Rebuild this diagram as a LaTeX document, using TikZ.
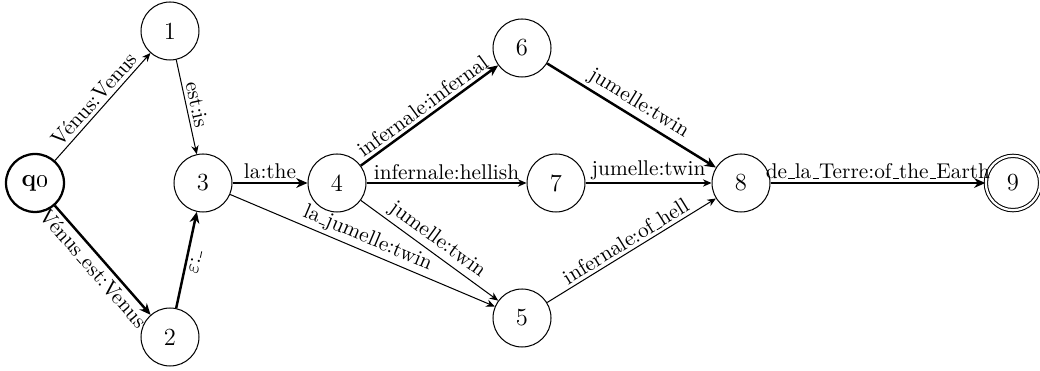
\documentclass[tikz,border=0pt]{standalone}
\usetikzlibrary{arrows.meta}
\newcommand\us{\leavevmode\kern.06em\vbox{\hrule width.3em}}
\begin{document}
\begin{tikzpicture}[x=0.488pt,y=-0.488pt,
  font=\fontsize{10.4}{12.5}\selectfont,
  st/.style={circle,draw,line width=0.5pt,minimum size=28.3pt,inner sep=0pt,font=\large},
  init/.style={st,line width=1.1pt},
  acc/.style={st,double,double distance=1.1pt,minimum size=26.5pt},
  tr/.style={line width=0.5pt,-{Stealth[length=4.2pt,width=3.6pt]}},
  btr/.style={line width=1.2pt,-{Stealth[length=5.5pt,width=4.8pt]}},
  lab/.style={sloped,inner sep=1.5pt}]
\useasboundingbox (0,0) rectangle (1040,371);
\node[init] (q0) at (35,183) {\textbf{q\oldstylenums{0}}};
\node[st] (s1) at (170,31) {1};
\node[st] (s2) at (170,337) {2};
\node[st] (s3) at (203,183) {3};
\node[st] (s4) at (337,183) {4};
\node[st] (s6) at (522,48) {6};
\node[st] (s7) at (556,183) {7};
\node[st] (s5) at (522,318) {5};
\node[st] (s8) at (741,183) {8};
\node[acc] (s9) at (1013,183) {9};
\draw[tr] (q0) -- node[lab,above] {Vénus:Venus} (s1);
\draw[btr] (q0) -- node[lab,below] {Vénus\us est:Venus} (s2);
\draw[tr] (s1) -- node[lab,above] {est:is} (s3);
\draw[btr] (s2) -- node[lab,below] {$\varepsilon$:\us} (s3);
\draw[btr] (s3) -- node[lab,above] {la:the} (s4);
\draw[tr] (s3) -- node[lab,above] {la\us jumelle:twin} (s5);
\draw[btr] (s4) -- node[lab,above] {infernale:infernal} (s6);
\draw[tr] (s4) -- node[lab,above] {infernale:hellish} (s7);
\draw[tr] (s4) -- node[lab,above] {jumelle:twin} (s5);
\draw[btr] (s6) -- node[lab,above] {jumelle:twin} (s8);
\draw[tr] (s7) -- node[lab,above] {jumelle:twin} (s8);
\draw[tr] (s5) -- node[lab,above] {infernale:of\us hell} (s8);
\draw[btr] (s8) -- node[lab,above] {de\us la\us Terre:of\us the\us Earth} (s9);
\end{tikzpicture}
\end{document}
